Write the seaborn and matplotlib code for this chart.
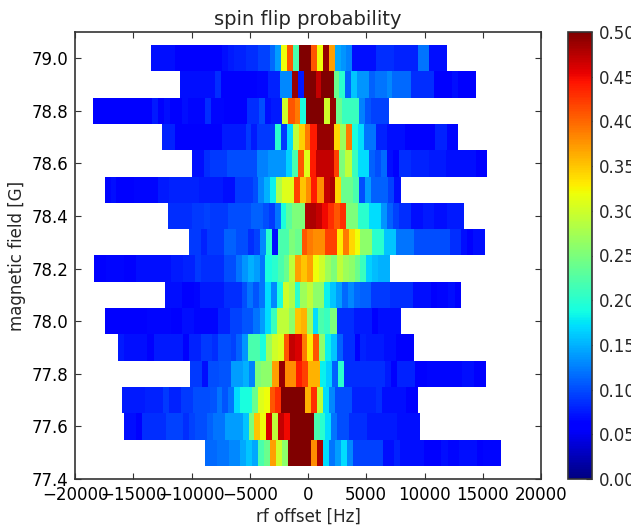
"""
Spin flip probability versus rf offset and magnetic field.
"""

import matplotlib
matplotlib.use('Agg')
import matplotlib.pyplot as plt
import numpy as np
import seaborn as sns

# magnetic field of each scan, top row first
fields = [79.0, 78.9, 78.8, 78.7, 78.6, 78.5, 78.4, 78.3,
          78.2, 78.1, 78.0, 77.9, 77.8, 77.7, 77.6, 77.5]

# rf offset of the left edge of each scan [Hz], every scan has 50 bins
scanStart = [-13460, -11020, -18445, -12480, -9990, -17470, -12000, -10225,
             -18360, -12310, -17380, -16320, -10140, -16000, -15780, -8850]
binWidth = 508

row790 = [.07, .07, .07, .07, .06, .06, .055, .06, .06, .06, .06, .06, .07, .075, .08, .08, .085, .085, .095, .095,
          .115, .14, .32, .41, .22, .5, .5, .41, .32, .49, .37, .145, .135, .125, .07, .07, .07, .07, .085, .085,
          .085, .08, .08, .08, .08, .12, .12, .07, .07, .07]
row789 = [.07, .07, .07, .07, .07, .07, .085, .06, .06, .06, .06, .06, .06, .065, .065, .08, .08, .13, .13, .49,
          .075, .5, .5, .47, .5, .5, .24, .2, .11, .16, .135, .135, .11, .12, .12, .13, .115, .115, .115, .085,
          .085, .085, .085, .06, .055, .055, .07, .06, .06, .06]
row788 = [.06, .06, .055, .055, .06, .06, .06, .06, .06, .06, .075, .06, .07, .06, .06, .07, .065, .065, .065, .085,
          .065, .065, .055, .055, .055, .055, .085, .085, .1, .07, .075, .075, .30, .41, .39, .19, .5, .5, .5, .3,
          .49, .24, .21, .21, .21, .125, .105, .095, .095, .095]
row787 = [.08, .08, .06, .06, .06, .06, .06, .06, .06, .06, .075, .075, .075, .075, .09, .075, .09, .09, .09, .2,
          .09, .17, .29, .345, .39, .44, .49, .49, .49, .34, .27, .39, .19, .17, .12, .12, .08, .08, .07, .07,
          .07, .06, .06, .06, .055, .055, .08, .08, .065, .065]
row786 = [.07, .07, .085, .09, .09, .09, .1, .1, .1, .1, .1, .125, .125, .135, .135, .135, .165, .22, .41, .31,
          .44, .47, .47, .47, .42, .25, .29, .21, .17, .17, .11, .1, .115, .07, .06, .085, .085, .08, .08, .08,
          .075, .075, .075, .07, .07, .07, .07, .07, .055, .055]
row785 = [.065, .07, .06, .06, .06, .065, .065, .065, .065, .075, .075, .08, .08, .08, .08, .08, .075, .075, .075, .075,
          .07, .07, .09, .09, .09, .1, .13, .15, .18, .28, .31, .31, .42, .35, .38, .44, .38, .47, .48, .34,
          .24, .24, .22, .1, .14, .11, .11, .11, .095, .07]
row784 = [.085, .085, .085, .085, .09, .09, .095, .09, .09, .09, .1, .1, .1, .1, .11, .11, .1, .09, .12, .19,
          .23, .25, .25, .48, .48, .47, .45, .43, .41, .43, .25, .25, .2, .2, .17, .17, .135, .11, .095, .085,
          .085, .07, .07, .075, .075, .07, .07, .075, .075, .075]
row783 = [.09, .09, .08, .09, .09, .09, .11, .11, .1, .1, .085, .095, .13, .2, .07, .22, .22, .25, .24, .41,
          .39, .38, .38, .42, .42, .33, .39, .34, .32, .26, .26, .2, .2, .16, .16, .12, .12, .12, .1, .1,
          .1, .1, .1, .1, .085, .085, .07, .06, .07, .07]
row782 = [.06, .06, .065, .065, .065, .06, .06, .07, .07, .07, .07, .07, .07, .075, .075, .08, .08, .09, .085, .085,
          .085, .085, .1, .1, .12, .135, .15, .14, .12, .19, .2, .22, .24, .29, .37, .35, .37, .32, .3, .27,
          .25, .29, .27, .26, .24, .21, .165, .155, .15, .15]
row781 = [.07, .07, .07, .055, .055, .065, .075, .075, .075, .075, .085, .085, .085, .1, .12, .105, .12, .17, .13, .19,
          .3, .28, .2, .27, .29, .26, .26, .18, .16, .14, .115, .13, .115, .11, .11, .09, .09, .09, .085, .085,
          .085, .085, .07, .07, .07, .055, .065, .065, .07, .06]
row780 = [.06, .06, .06, .06, .06, .06, .06, .065, .065, .065, .065, .06, .06, .07, .07, .065, .065, .065, .065, .08,
          .08, .095, .095, .105, .105, .12, .14, .17, .21, .29, .29, .26, .35, .36, .27, .17, .22, .21, .25, .085,
          .085, .085, .075, .075, .075, .055, .07, .07, .07, .07]
row779 = [.075, .07, .07, .07, .07, .06, .075, .075, .075, .075, .075, .06, .08, .08, .09, .09, .085, .1, .1, .095,
          .11, .135, .22, .22, .19, .27, .3, .31, .41, .47, .46, .39, .33, .41, .26, .18, .16, .11, .085, .085,
          .06, .08, .075, .075, .075, .07, .07, .06, .055, .055]
row778 = [.09, .09, .07, .1, .1, .105, .105, .14, .14, .15, .125, .25, .26, .26, .37, .49, .38, .38, .44, .42,
          .36, .36, .18, .165, .11, .2, .085, .085, .085, .085, .085, .085, .085, .075, .06, .08, .08, .08, .06, .06,
          .065, .065, .065, .065, .065, .065, .07, .07, .06, .06]
row777 = [.075, .075, .075, .075, .08, .08, .08, .09, .08, .08, .09, .09, .1, .1, .1, .105, .12, .105, .12, .17,
          .19, .19, .24, .31, .32, .41, .43, .5, .5, .5, .5, .36, .43, .29, .17, .13, .1, .1, .1, .08,
          .08, .08, .08, .085, .07, .07, .07, .07, .055, .055]
row776 = [.07, .07, .06, .085, .085, .085, .085, .095, .095, .095, .085, .095, .1, .1, .11, .12, .12, .14, .14, .14,
          .16, .25, .35, .32, .46, .29, .47, .45, .5, .5, .5, .5, .22, .2, .17, .12, .1, .1, .085, .085,
          .085, .075, .075, .075, .075, .075, .07, .07, .07, .07]
row775 = [.115, .115, .12, .12, .13, .13, .145, .16, .145, .22, .24, .37, .3, .26, .5, .5, .5, .5, .38, .48,
          .17, .12, .14, .17, .13, .095, .095, .095, .095, .095, .07, .07, .08, .07, .07, .07, .07, .055, .055, .055,
          .07, .065, .065, .07, .07, .07, .055, .065, .065, .065]

allRows = [row790, row789, row788, row787, row786, row785, row784, row783,
           row782, row781, row780, row779, row778, row777, row776, row775]

xTicks = [-20000, -15000, -10000, -5000, 0, 5000, 10000, 15000, 20000]
yTicks = [79.0, 78.8, 78.6, 78.4, 78.2, 78.0, 77.8, 77.6, 77.4]
cbarTicks = [0.0, 0.05, 0.1, 0.15, 0.2, 0.25, 0.3, 0.35, 0.4, 0.45, 0.5]

# scans do not share a frequency axis, so put them on one fine grid
gridStep = 50.
xMin, xMax = -20000., 20000.
yMin, yMax = 77.4, 79.1
nCols = int((xMax - xMin) / gridStep)
grid = np.full((len(fields), nCols), np.nan)
for m in range(len(fields)):
    for k in range(len(allRows[m])):
        i0 = int(round((scanStart[m] + k * binWidth - xMin) / gridStep))
        i1 = int(round((scanStart[m] + (k + 1) * binWidth - xMin) / gridStep))
        grid[m, i0:i1] = allRows[m][k]

sns.set_style('white')
plt.rcParams['font.family'] = ['DejaVu Sans']

fs = 12
W, H = 631., 529.
fig = plt.figure(figsize=(W / 100, H / 100), dpi=100)
ax = fig.add_axes([75 / W, 50 / H, 466 / W, 447 / H])
cax = fig.add_axes([568 / W, 50 / H, 24 / W, 447 / H])

sns.heatmap(grid, vmin=0, vmax=0.5, cmap='jet', ax=ax, cbar_ax=cax,
            xticklabels=False, yticklabels=False, rasterized=True)

# heatmap works in cell numbers, row 0 is centred on fields[0]
dField = fields[0] - fields[1]
yPos = lambda y: (fields[0] - y) / dField + 0.5
ax.set_xlim(0, nCols)
ax.set_ylim(yPos(yMin), yPos(yMax))
ax.set_xticks([(t - xMin) / gridStep for t in xTicks])
ax.set_xticklabels(['%d' % t if t >= 0 else '\u2212%d' % -t for t in xTicks], fontsize=fs)
ax.set_yticks([yPos(t) for t in yTicks])
ax.set_yticklabels(['%.1f' % t for t in yTicks], fontsize=fs, rotation=0)
ax.tick_params(direction='in', length=4, width=0.8, color='#333333', top=True, right=True,
               bottom=True, left=True, pad=5, labelcolor='k')
for s in ax.spines.values():
    s.set_visible(True)
    s.set_color('#333333')
    s.set_linewidth(1.2)

ax.set_xlabel('rf offset [Hz]', fontsize=fs, labelpad=3)
ax.set_ylabel('magnetic field [G]', fontsize=fs, labelpad=4)
ax.set_title('spin flip probability', fontsize=14, pad=5)

cb = ax.collections[0].colorbar
cb.set_ticks(cbarTicks)
cb.set_ticklabels(['%.2f' % t for t in cbarTicks], fontsize=fs)
cb.ax.tick_params(direction='in', length=4, width=0.8, color='#333333', right=True, pad=5)
cb.outline.set_visible(True)
cb.outline.set_edgecolor('#333333')
cb.outline.set_linewidth(1.2)

fig.savefig('out.png', dpi=100)
